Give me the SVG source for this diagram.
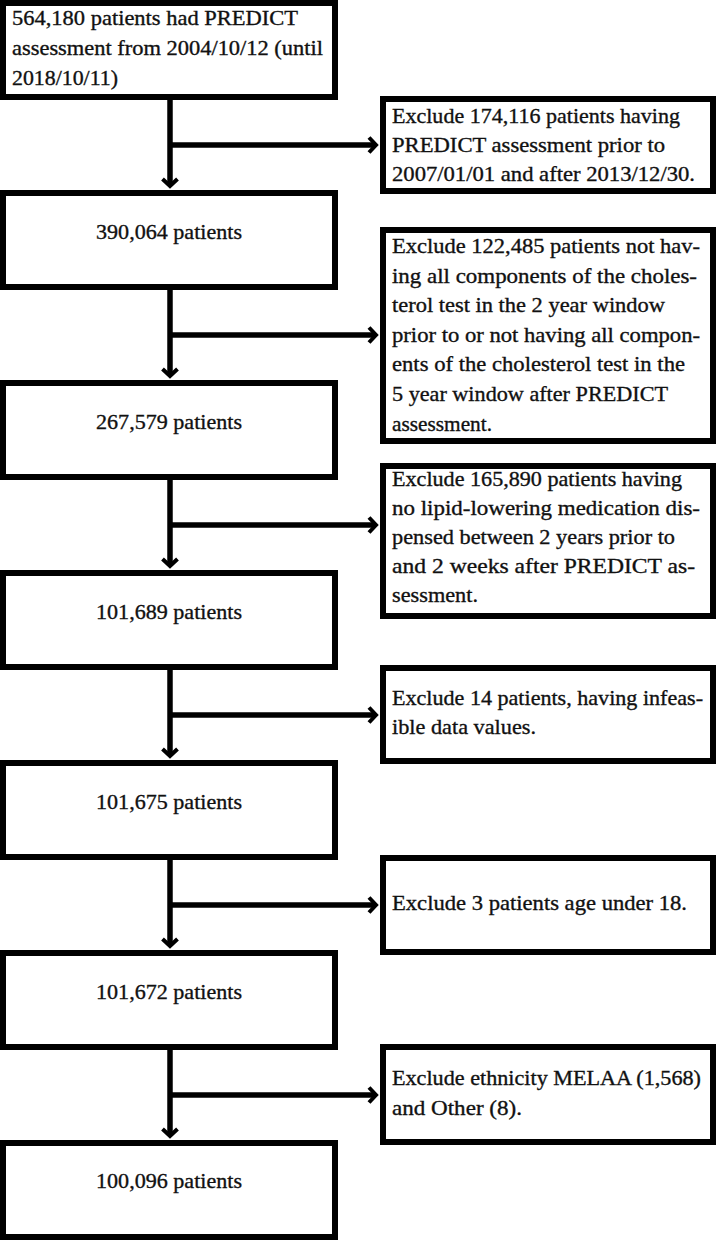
<svg xmlns="http://www.w3.org/2000/svg" width="717" height="1240" viewBox="0 0 717 1240">
<style>
.box{fill:#fff;stroke:#000;stroke-width:6}
.t{font-family:"Liberation Serif","Times New Roman",serif;font-size:21.5px;fill:#111;stroke:#111;stroke-width:0.35}
.c{text-anchor:middle}
.ln{fill:none;stroke:#000;stroke-width:5.5}
</style>
<defs>
<marker id="ah" viewBox="-12 -10 16 20" markerWidth="16" markerHeight="20" refX="0" refY="0" orient="auto" markerUnits="userSpaceOnUse">
<path d="M-7,-7.5 L0,0 L-7,7.5" fill="none" stroke="#000" stroke-width="4"/>
</marker>
</defs>
<rect width="717" height="1240" fill="#fff"/>
<g id="connectors">
<line class="ln" x1="170" y1="100" x2="170" y2="186" marker-end="url(#ah)"/>
<line class="ln" x1="170" y1="145" x2="376" y2="145" marker-end="url(#ah)"/>
<line class="ln" x1="170" y1="290" x2="170" y2="376" marker-end="url(#ah)"/>
<line class="ln" x1="170" y1="335" x2="376" y2="335" marker-end="url(#ah)"/>
<line class="ln" x1="170" y1="480" x2="170" y2="566" marker-end="url(#ah)"/>
<line class="ln" x1="170" y1="525" x2="376" y2="525" marker-end="url(#ah)"/>
<line class="ln" x1="170" y1="670" x2="170" y2="756" marker-end="url(#ah)"/>
<line class="ln" x1="170" y1="715" x2="376" y2="715" marker-end="url(#ah)"/>
<line class="ln" x1="170" y1="860" x2="170" y2="946" marker-end="url(#ah)"/>
<line class="ln" x1="170" y1="905" x2="376" y2="905" marker-end="url(#ah)"/>
<line class="ln" x1="170" y1="1050" x2="170" y2="1136" marker-end="url(#ah)"/>
<line class="ln" x1="170" y1="1095" x2="376" y2="1095" marker-end="url(#ah)"/>
</g>
<g id="n1">
<rect class="box" x="3" y="3" width="332" height="94"/>
<text class="t" x="12" y="25" textLength="286" lengthAdjust="spacingAndGlyphs">564,180 patients had PREDICT</text>
<text class="t" x="12" y="55" textLength="311" lengthAdjust="spacingAndGlyphs">assessment from 2004/10/12 (until</text>
<text class="t" x="12" y="85" textLength="106" lengthAdjust="spacingAndGlyphs">2018/10/11)</text>
</g>
<g id="x1">
<rect class="box" x="383" y="99" width="330" height="92"/>
<text class="t" x="392" y="123" textLength="288" lengthAdjust="spacingAndGlyphs">Exclude 174,116 patients having</text>
<text class="t" x="392" y="152" textLength="273" lengthAdjust="spacingAndGlyphs">PREDICT assessment prior to</text>
<text class="t" x="392" y="181" textLength="303" lengthAdjust="spacingAndGlyphs">2007/01/01 and after 2013/12/30.</text>
</g>
<g id="n2">
<rect class="box" x="3" y="193" width="332" height="94"/>
<text class="t c" x="169" y="239" textLength="146" lengthAdjust="spacingAndGlyphs">390,064 patients</text>
</g>
<g id="x2">
<rect class="box" x="383" y="230" width="330" height="211"/>
<text class="t" x="392" y="253" textLength="308" lengthAdjust="spacingAndGlyphs">Exclude 122,485 patients not hav-</text>
<text class="t" x="392" y="282.6" textLength="305" lengthAdjust="spacingAndGlyphs">ing all components of the choles-</text>
<text class="t" x="392" y="312.2" textLength="273" lengthAdjust="spacingAndGlyphs">terol test in the 2 year window</text>
<text class="t" x="392" y="341.8" textLength="308" lengthAdjust="spacingAndGlyphs">prior to or not having all compon-</text>
<text class="t" x="392" y="371.4" textLength="293" lengthAdjust="spacingAndGlyphs">ents of the cholesterol test in the</text>
<text class="t" x="392" y="401" textLength="276" lengthAdjust="spacingAndGlyphs">5 year window after PREDICT</text>
<text class="t" x="392" y="430.6" textLength="100" lengthAdjust="spacingAndGlyphs">assessment.</text>
</g>
<g id="n3">
<rect class="box" x="3" y="383" width="332" height="94"/>
<text class="t c" x="169" y="429" textLength="146" lengthAdjust="spacingAndGlyphs">267,579 patients</text>
</g>
<g id="x3">
<rect class="box" x="383" y="466" width="330" height="150"/>
<text class="t" x="392" y="486" textLength="290" lengthAdjust="spacingAndGlyphs">Exclude 165,890 patients having</text>
<text class="t" x="392" y="515" textLength="308" lengthAdjust="spacingAndGlyphs">no lipid-lowering medication dis-</text>
<text class="t" x="392" y="544" textLength="283" lengthAdjust="spacingAndGlyphs">pensed between 2 years prior to</text>
<text class="t" x="392" y="573" textLength="303" lengthAdjust="spacingAndGlyphs">and 2 weeks after PREDICT as-</text>
<text class="t" x="392" y="602" textLength="86" lengthAdjust="spacingAndGlyphs">sessment.</text>
</g>
<g id="n4">
<rect class="box" x="3" y="573" width="332" height="94"/>
<text class="t c" x="169" y="619" textLength="146" lengthAdjust="spacingAndGlyphs">101,689 patients</text>
</g>
<g id="x4">
<rect class="box" x="383" y="668" width="330" height="93"/>
<text class="t" x="392" y="705" textLength="311" lengthAdjust="spacingAndGlyphs">Exclude 14 patients, having infeas-</text>
<text class="t" x="392" y="734" textLength="144" lengthAdjust="spacingAndGlyphs">ible data values.</text>
</g>
<g id="n5">
<rect class="box" x="3" y="763" width="332" height="94"/>
<text class="t c" x="169" y="809" textLength="146" lengthAdjust="spacingAndGlyphs">101,675 patients</text>
</g>
<g id="x5">
<rect class="box" x="383" y="858" width="330" height="94"/>
<text class="t" x="392" y="910" textLength="295" lengthAdjust="spacingAndGlyphs">Exclude 3 patients age under 18.</text>
</g>
<g id="n6">
<rect class="box" x="3" y="953" width="332" height="94"/>
<text class="t c" x="169" y="999" textLength="146" lengthAdjust="spacingAndGlyphs">101,672 patients</text>
</g>
<g id="x6">
<rect class="box" x="383" y="1047" width="330" height="95"/>
<text class="t" x="392" y="1085" textLength="309" lengthAdjust="spacingAndGlyphs">Exclude ethnicity MELAA (1,568)</text>
<text class="t" x="392" y="1115" textLength="130" lengthAdjust="spacingAndGlyphs">and Other (8).</text>
</g>
<g id="n7">
<rect class="box" x="3" y="1143" width="332" height="94"/>
<text class="t c" x="169" y="1188" textLength="146" lengthAdjust="spacingAndGlyphs">100,096 patients</text>
</g>
</svg>
